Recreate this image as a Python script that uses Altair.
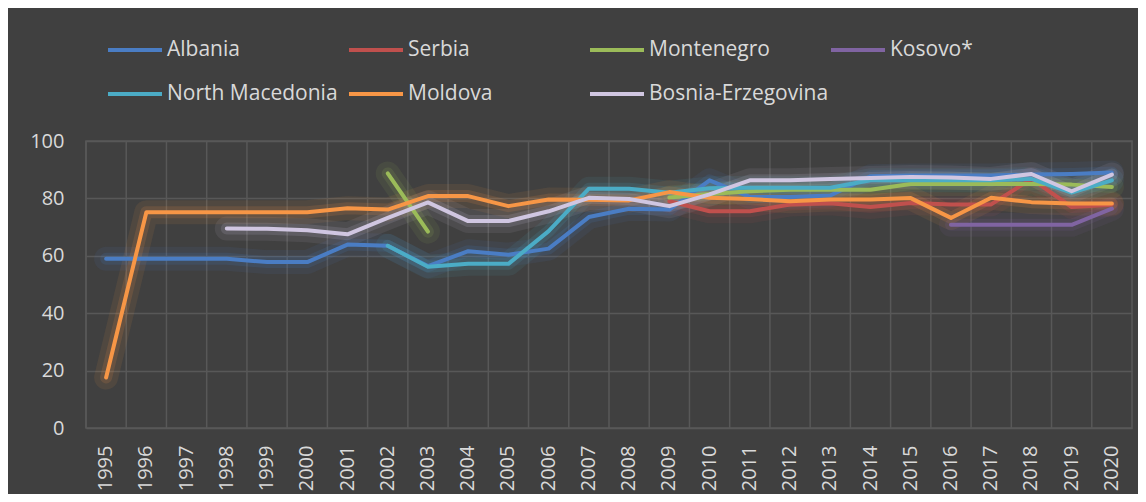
import altair as alt
import pandas as pd

years = [str(y) for y in range(1995, 2021)]
series = ["Albania", "Serbia", "Montenegro", "Kosovo*", "North Macedonia", "Moldova", "Bosnia-Erzegovina"]
colors = ["#4A7DC4", "#C0504D", "#9BBB59", "#8064A2", "#4BACC6", "#F79646", "#D0C6E1"]
y_ticks = [0, 20, 40, 60, 80, 100]

N = None
albania = [59, 59, 59, 59, 57.8, 57.8, 63.9, 63.5, 56.4, 61.6, 60.4, 62.5, 73.5, 76.4, 76.1, 86.3,
           80.5, 80.5, 81, 87.7, 88, 88, 88, 88.3, 88.5, 89]
serbia = [N, N, N, N, N, N, N, N, N, N, N, N, N, N, 79, 75.5, 75.5, 77.9, 78.3, 77, 78.4, 77.9, 77.9,
          86.8, 77, 77.8]
montenegro = [N, N, N, N, N, N, N, 88.7, 68.4, N, N, N, N, N, 80.3, 81.5, 82.5, 83, 83, 83, 85, 85, 85,
              85, 84.8, 84]
kosovo = [N, N, N, N, N, N, N, N, N, N, N, N, N, N, N, N, N, N, N, N, N, 70.8, 70.8, 70.8, 70.8, 76.4]
north_macedonia = [N, N, N, N, N, N, N, 63.5, 56.2, 57.2, 57.2, 68.6, 83.4, 83.4, 82, 83.5, 83.7, 83.7,
                   83.7, 86.3, 86.3, 86.3, 86.3, 86.8, 82, 86.3]
moldova = [17.6, 75.2, 75.2, 75.2, 75.2, 75.2, 76.6, 76.1, 80.8, 80.8, 77.3, 79.6, 79.5, 79.3, 82.2,
           80.2, 79.8, 79, 79.6, 79.6, 80.1, 73.2, 80.2, 78.7, 78.2, 78.2]
bosnia = [N, N, N, 69.5, 69.4, 68.9, 67.5, 73.2, 78.6, 72.1, 72.1, 75.5, 80.2, 79.8, 77.3, 81.4, 86.3,
          86.3, 86.8, 87.1, 87.5, 87.3, 86.8, 88.5, 82.5, 88.3]

values = [albania, serbia, montenegro, kosovo, north_macedonia, moldova, bosnia]

rows = []
for name, vals in zip(series, values):
    seg = 0
    prev_none = True
    for yr, v in zip(years, vals):
        if v is None:
            if not prev_none:
                seg += 1
            prev_none = True
            continue
        prev_none = False
        rows.append({"year": yr, "value": v, "country": name, "seg": seg})
df = pd.DataFrame(rows)
grid_df = pd.DataFrame({"year": years})

FONT = "Open Sans"
TXT = "#D9D9D9"
GRID = "#585858"

xscale = alt.Scale(domain=years, type="band", paddingInner=0, paddingOuter=0)
yscale = alt.Scale(domain=[0, 100], nice=False)
cscale = alt.Scale(domain=series, range=colors)

legend = alt.Legend(
    orient="none", legendX=20, legendY=-120, direction="horizontal", columns=4,
    gridAlign="all", symbolType="stroke", symbolSize=2916, symbolStrokeWidth=4,
    symbolOpacity=1, labelFont=FONT, labelFontSize=21, labelColor=TXT, labelOffset=3,
    labelLimit=400, columnPadding=-11, rowPadding=5, title=None,
)
yaxis = alt.Axis(values=y_ticks, title=None)

vgrid = alt.Chart(grid_df).mark_rule(color=GRID, strokeWidth=1.5).encode(
    x=alt.X("year:O", scale=xscale, bandPosition=0, title=None)
)

base = alt.Chart(df)

def line_layer(width, opacity):
    return base.mark_line(strokeWidth=width, opacity=opacity, strokeCap="round", strokeJoin="round").encode(
        x=alt.X("year:O", scale=xscale, title=None),
        y=alt.Y("value:Q", scale=yscale, axis=yaxis),
        color=alt.Color("country:N", scale=cscale, sort=series, legend=legend),
        detail="seg:N",
    )

glow1 = line_layer(24, 0.09)
glow2 = line_layer(12, 0.14)
main = line_layer(4, 1)

chart = alt.layer(vgrid, glow1, glow2, main).properties(
    width=1046, height=287,
    padding={"left": 78, "top": 133, "right": 6, "bottom": 66},
    autosize=alt.AutoSizeParams(type="none"),
    background="#404040",
).configure_view(
    stroke=GRID, strokeWidth=1.5
).configure_axisX(
    labelAngle=270, labelFont=FONT, labelFontSize=20, labelColor=TXT,
    labelPadding=17, domain=False, ticks=False, grid=False,
).configure_axisY(
    labelFont=FONT, labelFontSize=20, labelColor=TXT,
    labelPadding=22, domain=False, ticks=False, grid=True, gridColor=GRID, gridWidth=1.5,
)

chart.save("out.html", embed_options={"renderer": "svg", "actions": False})
